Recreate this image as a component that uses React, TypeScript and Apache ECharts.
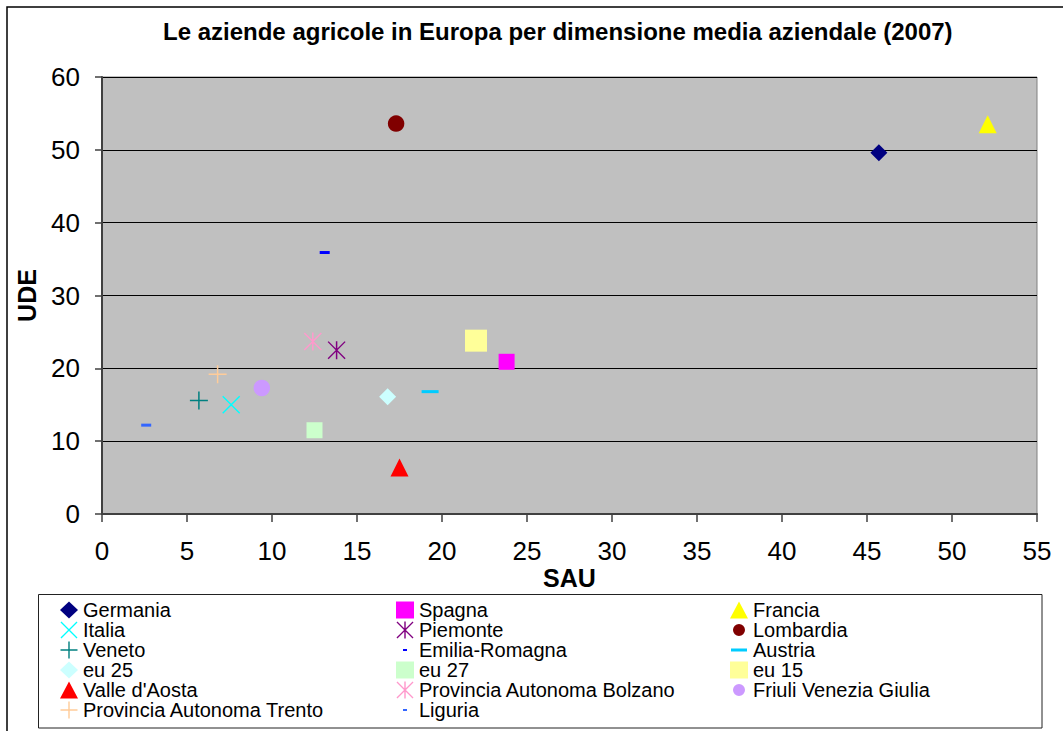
import React, { useEffect, useRef } from "react";
import * as echarts from "echarts";

const seriesNames = [
  "Germania", "Spagna", "Francia", "Italia", "Piemonte", "Lombardia",
  "Veneto", "Emilia-Romagna", "Austria", "eu 25", "eu 27", "eu 15",
  "Valle d'Aosta", "Provincia Autonoma Bolzano", "Friuli Venezia Giulia",
  "Provincia Autonoma Trento", "Liguria",
];
const sauValues = [45.7, 23.8, 52.1, 7.6, 13.8, 17.3, 5.7, 13.1, 19.3, 16.8, 12.5, 22.0, 17.5, 12.4, 9.4, 6.8, 2.6];
const udeValues = [49.6, 20.9, 53.5, 15.0, 22.5, 53.6, 15.6, 35.9, 16.8, 16.1, 11.5, 23.8, 6.4, 23.7, 17.3, 19.2, 12.2];

const xTicks = { min: 0, max: 55, interval: 5 };
const yTicks = { min: 0, max: 60, interval: 10 };

const legendCol1 = ["Germania", "Italia", "Veneto", "eu 25", "Valle d'Aosta", "Provincia Autonoma Trento"];
const legendCol2 = ["Spagna", "Piemonte", "Emilia-Romagna", "eu 27", "Provincia Autonoma Bolzano", "Liguria"];
const legendCol3 = ["Francia", "Lombardia", "Austria", "eu 15", "Friuli Venezia Giulia"];

const X_PATH = "path://M1,0L18,17L17,18L0,1Z M17,0L18,1L1,18L0,17Z";
const PLUS_PATH = "path://M0,8.25H18V9.75H0Z M8.25,0H9.75V18H8.25Z";
const AST_PATH = "path://M1,0L18,17L17,18L0,1Z M17,0L18,1L1,18L0,17Z M8.25,0H9.75V18H8.25Z";

const LEG_SMALL_DASH = "path://M0,0L0,0Z M18,17L18,17Z M7,7.5H11V9.5H7Z";
const LEG_DASH = "path://M0,0L0,0Z M18,17L18,17Z M1,7H17V10H1Z";
const LEG_CIRCLE = "path://M0,0L0,0Z M18,17L18,17Z M3,8.5A6,6 0 1 0 15,8.5A6,6 0 1 0 3,8.5Z";

const markerStyles: Record<string, { symbol: string; size: any; color: string; keep: boolean; legendIcon?: string }> = {
  "Germania": { symbol: "diamond", size: 17, color: "#000080", keep: true },
  "Spagna": { symbol: "rect", size: 16, color: "#FF00FF", keep: true },
  "Francia": { symbol: "triangle", size: 18, color: "#FFFF00", keep: true },
  "Italia": { symbol: X_PATH, size: 18, color: "#00FFFF", keep: true },
  "Piemonte": { symbol: AST_PATH, size: 18, color: "#800080", keep: true },
  "Lombardia": { symbol: "circle", size: 16.5, color: "#800000", keep: true, legendIcon: LEG_CIRCLE },
  "Veneto": { symbol: PLUS_PATH, size: 18, color: "#008080", keep: true },
  "Emilia-Romagna": { symbol: "rect", size: [10, 3], color: "#0000FF", keep: false, legendIcon: LEG_SMALL_DASH },
  "Austria": { symbol: "rect", size: [17, 3], color: "#00CCFF", keep: false, legendIcon: LEG_DASH },
  "eu 25": { symbol: "diamond", size: 17, color: "#CCFFFF", keep: true },
  "eu 27": { symbol: "rect", size: 16, color: "#CCFFCC", keep: true },
  "eu 15": { symbol: "rect", size: 22, color: "#FFFF99", keep: true },
  "Valle d'Aosta": { symbol: "triangle", size: 18, color: "#FF0000", keep: true },
  "Provincia Autonoma Bolzano": { symbol: AST_PATH, size: 18, color: "#FF99CC", keep: true },
  "Friuli Venezia Giulia": { symbol: "circle", size: 16.5, color: "#CC99FF", keep: true, legendIcon: LEG_CIRCLE },
  "Provincia Autonoma Trento": { symbol: PLUS_PATH, size: 18, color: "#FFCC99", keep: true },
  "Liguria": { symbol: "rect", size: [10, 3], color: "#3366FF", keep: false, legendIcon: LEG_SMALL_DASH },
};

const FONT = "'Liberation Sans', Arial, Helvetica, sans-serif";

function makeLegend(names: string[], left: number) {
  return {
    orient: "vertical",
    left,
    top: 600,
    padding: 0,
    itemGap: 0,
    itemWidth: 18,
    itemHeight: 17,
    selectedMode: false,
    symbolKeepAspect: true,
    textStyle: { fontFamily: FONT, fontSize: 20, color: "#000" },
    data: names.map((n) => {
      const m = markerStyles[n];
      return m.legendIcon ? { name: n, icon: m.legendIcon } : { name: n };
    }),
  };
}

export default function App() {
  const ref = useRef<HTMLDivElement>(null);
  useEffect(() => {
    if (!ref.current) return;
    const chart = echarts.init(ref.current, null, { renderer: "svg" });
    const series = seriesNames.map((name, i) => {
      const m = markerStyles[name];
      return {
        name,
        type: "scatter",
        symbol: m.symbol,
        symbolSize: m.size,
        symbolKeepAspect: m.keep,
        itemStyle: { color: m.color, opacity: 1 },
        emphasis: { disabled: true },
        data: [[sauValues[i], udeValues[i]]],
      };
    });
    chart.setOption({
      animation: false,
      backgroundColor: "#fff",
      title: {
        text: "Le aziende agricole in Europa per dimensione media aziendale (2007)",
        left: 163,
        top: 19,
        padding: 0,
        textStyle: { fontFamily: FONT, fontSize: 24, fontWeight: "bold", color: "#000" },
      },
      grid: {
        left: 102,
        right: 26,
        top: 77,
        bottom: 217,
        show: true,
        backgroundColor: "#C0C0C0",
        borderColor: "#808080",
        borderWidth: 1,
        containLabel: false,
        outerBoundsMode: "none",
      },
      xAxis: {
        type: "value",
        min: xTicks.min,
        max: xTicks.max,
        interval: xTicks.interval,
        name: "SAU",
        nameLocation: "middle",
        nameGap: 51,
        nameMoveOverlap: false,
        nameTextStyle: { fontFamily: FONT, fontSize: 25, fontWeight: "bold", color: "#000" },
        axisLine: { show: true, onZero: false, lineStyle: { color: "#404040", width: 2 } },
        axisTick: { show: true, inside: false, length: 8, lineStyle: { color: "#404040", width: 1.5 } },
        axisLabel: { fontFamily: FONT, fontSize: 26, color: "#000", margin: 24 },
        splitLine: { show: false },
      },
      yAxis: {
        type: "value",
        min: yTicks.min,
        max: yTicks.max,
        interval: yTicks.interval,
        name: "UDE",
        nameLocation: "middle",
        nameGap: 62.5,
        nameRotate: 90,
        nameMoveOverlap: false,
        nameTextStyle: { fontFamily: FONT, fontSize: 25, fontWeight: "bold", color: "#000" },
        axisLine: { show: true, lineStyle: { color: "#404040", width: 2 } },
        axisTick: { show: true, inside: false, length: 7, lineStyle: { color: "#404040", width: 1.5 } },
        axisLabel: { fontFamily: FONT, fontSize: 26, color: "#000", margin: 22 },
        splitLine: { show: true, lineStyle: { color: "#000", width: 1 } },
      },
      legend: [makeLegend(legendCol1, 60), makeLegend(legendCol2, 396), makeLegend(legendCol3, 730)],
      graphic: [
        {
          type: "rect",
          silent: true,
          shape: { x: 7, y: 7, width: 1070, height: 740 },
          style: { fill: "none", stroke: "#000", lineWidth: 1.5 },
        },
        {
          type: "rect",
          silent: true,
          shape: { x: 38.5, y: 594.5, width: 1003.5, height: 133.5 },
          style: { fill: "none", stroke: "#222", lineWidth: 1 },
        },
      ],
      series,
    });
    return () => chart.dispose();
  }, []);
  return (
    <div
      ref={ref}
      style={{ position: "absolute", left: 0, top: 0, width: 1063, height: 731, background: "#fff" }}
    />
  );
}
